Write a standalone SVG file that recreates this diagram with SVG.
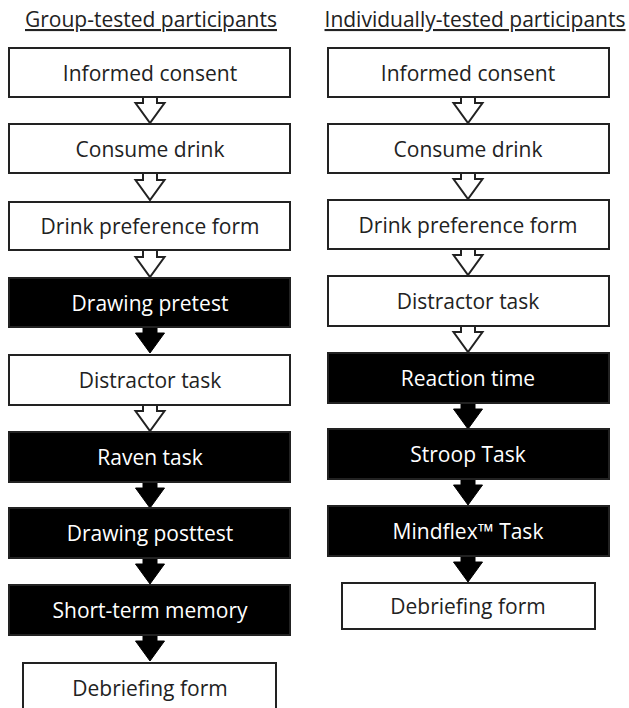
<svg xmlns="http://www.w3.org/2000/svg" width="629" height="708" viewBox="0 0 629 708">
<defs>
<style>
.hdr{font-family:"Open Sans","Liberation Sans",sans-serif;font-size:21px;fill:#222;text-anchor:middle;text-decoration:underline}
.box{fill:#fff;stroke:#222;stroke-width:2}
.dbox{fill:#000;stroke:#222;stroke-width:2}
.lbl{font-family:"Open Sans","Liberation Sans",sans-serif;font-size:21px;fill:#222;text-anchor:middle}
.dlbl{font-family:"Open Sans","Liberation Sans",sans-serif;font-size:21px;fill:#fff;text-anchor:middle}
.oa{fill:#fff;stroke:#222;stroke-width:2;stroke-linejoin:miter}
.ba{fill:#000;stroke:#000;stroke-width:1}
</style>
<path id="arr" d="M-7,-1 L-7,6 L-14.5,6 L0,26 L14.5,6 L7,6 L7,-1"/>
</defs>
<rect width="629" height="708" fill="#fff"/>
<text class="hdr" x="151" y="27">Group-tested participants</text>
<text class="hdr" x="475" y="27">Individually-tested participants</text>

<g id="connectors">
<use href="#arr" class="oa" x="150" y="97"/>
<use href="#arr" class="oa" x="150" y="174"/>
<use href="#arr" class="oa" x="150" y="251"/>
<use href="#arr" class="ba" x="150" y="327"/>
<use href="#arr" class="oa" x="150" y="405"/>
<use href="#arr" class="ba" x="150" y="482"/>
<use href="#arr" class="ba" x="150" y="558"/>
<use href="#arr" class="ba" x="150" y="635"/>
<use href="#arr" class="oa" x="468" y="97"/>
<use href="#arr" class="oa" x="468" y="173"/>
<use href="#arr" class="oa" x="468" y="249"/>
<use href="#arr" class="oa" x="468" y="326"/>
<use href="#arr" class="ba" x="468" y="403"/>
<use href="#arr" class="ba" x="468" y="479"/>
<use href="#arr" class="ba" x="468" y="556"/>
</g>

<g id="g1"><rect class="box" x="9" y="48" width="281" height="49"/><text class="lbl" x="150" y="81">Informed consent</text></g>
<g id="g2"><rect class="box" x="9" y="124" width="281" height="49"/><text class="lbl" x="150" y="157">Consume drink</text></g>
<g id="g3"><rect class="box" x="9" y="202" width="281" height="48"/><text class="lbl" x="150" y="234">Drink preference form</text></g>
<g id="g4"><rect class="dbox" x="9" y="278" width="281" height="49"/><text class="dlbl" x="150" y="311">Drawing pretest</text></g>
<g id="g5"><rect class="box" x="9" y="355" width="281" height="50"/><text class="lbl" x="150" y="388">Distractor task</text></g>
<g id="g6"><rect class="dbox" x="9" y="432" width="281" height="50"/><text class="dlbl" x="150" y="465">Raven task</text></g>
<g id="g7"><rect class="dbox" x="9" y="508" width="281" height="50"/><text class="dlbl" x="150" y="541">Drawing posttest</text></g>
<g id="g8"><rect class="dbox" x="9" y="585" width="281" height="50"/><text class="dlbl" x="150" y="618">Short-term memory</text></g>
<g id="g9"><rect class="box" x="23" y="663" width="253" height="50"/><text class="lbl" x="150" y="696">Debriefing form</text></g>

<g id="i1"><rect class="box" x="328" y="48" width="281" height="49"/><text class="lbl" x="468" y="81">Informed consent</text></g>
<g id="i2"><rect class="box" x="328" y="124" width="281" height="49"/><text class="lbl" x="468" y="157">Consume drink</text></g>
<g id="i3"><rect class="box" x="328" y="200" width="281" height="49"/><text class="lbl" x="468" y="233">Drink preference form</text></g>
<g id="i4"><rect class="box" x="328" y="276" width="281" height="50"/><text class="lbl" x="468" y="309">Distractor task</text></g>
<g id="i5"><rect class="dbox" x="328" y="353" width="281" height="50"/><text class="dlbl" x="468" y="386">Reaction time</text></g>
<g id="i6"><rect class="dbox" x="328" y="429" width="281" height="50"/><text class="dlbl" x="468" y="462">Stroop Task</text></g>
<g id="i7"><rect class="dbox" x="328" y="506" width="281" height="50"/><text class="dlbl" x="468" y="539">Mindflex™ Task</text></g>
<g id="i8"><rect class="box" x="342" y="583" width="253" height="46"/><text class="lbl" x="468" y="614">Debriefing form</text></g>
</svg>
